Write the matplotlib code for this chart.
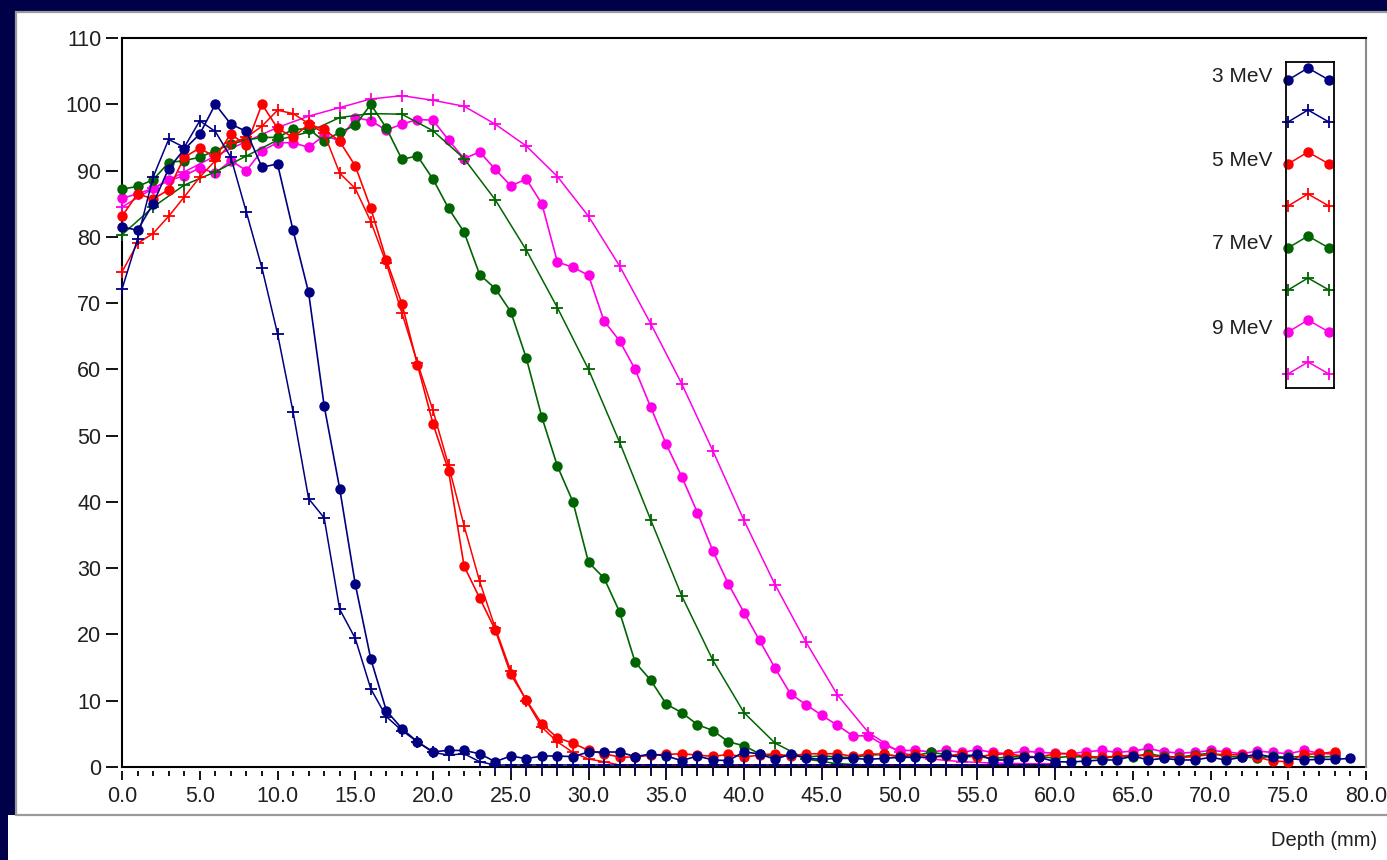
import numpy as np
import matplotlib
matplotlib.use("Agg")
import matplotlib.pyplot as plt
from matplotlib.patches import Rectangle

plt.rcParams['font.family'] = ['Liberation Sans', 'DejaVu Sans']

# figure size in pixels (layout below is given in pixels of the reference)
W, H = 1387, 860

NAVY_BG = "#000048"

# ---- data: relative dose (%) vs depth (mm) ----
labels = ["3 MeV", "5 MeV", "7 MeV", "9 MeV"]
colors = ["#000080", "#ff0000", "#006400", "#ff00e6"]

# measured curves (dots), 1 mm steps starting at 0 mm
dose_3_dot = [81.5, 81, 85, 90.3, 93.2, 95.5, 100, 97, 95.9, 90.5,
              91, 81, 71.6, 54.5, 42, 27.6, 16.3, 8.5, 5.8, 3.8,
              2.3, 2.5, 2.5, 2.0, 0.8, 1.66, 1.26, 1.66, 1.66, 1.56,
              2.26, 2.26, 2.26, 1.56, 1.96, 1.66, 0.96, 1.66, 1.06, 0.96,
              2.3, 1.96, 1.16, 1.96, 1.3, 1.16, 1.3, 1.3, 1.16, 1.3,
              1.46, 1.46, 1.46, 1.8, 1.46, 1.96, 1.06, 1.06, 1.46, 1.46,
              0.8, 0.75, 0.9, 1.06, 1.06, 1.66, 1.06, 1.3, 1.06, 1.06,
              1.46, 1.06, 1.46, 1.96, 1.46, 1.3, 1.06, 1.16, 1.16, 1.3]
dose_5_dot = [83.1, 86.5, 85.7, 87.1, 92, 93.4, 92, 95.5, 93.8, 100,
              96.4, 95, 97, 96.2, 94.4, 90.7, 84.3, 76.5, 69.9, 60.7,
              51.8, 44.7, 30.3, 25.5, 20.7, 14, 10.1, 6.5, 4.4, 3.6,
              2.5, 2.0, 1.5, 1.5, 1.8, 1.9, 2.0, 1.8, 1.6, 1.9,
              1.5, 1.8, 2.0, 1.6, 2.0, 2.0, 2.0, 1.6, 2.0, 1.9,
              1.6, 2.0, 1.5, 1.6, 2.0, 1.5, 1.9, 2.0, 1.6, 1.5,
              2.0, 2.0, 1.6, 1.5, 1.6, 1.8, 1.7, 1.5, 1.4, 1.6,
              1.9, 1.9, 1.8, 1.5, 0.9, 0.8, 1.9, 2.0, 2.3]
dose_7_dot = [87.2, 87.6, 88.6, 91.2, 91.5, 92, 93, 94, 94.6, 95,
              95, 96.2, 96.3, 94.4, 95.8, 96.8, 100, 96.4, 91.7, 92.2,
              88.7, 84.3, 80.7, 74.3, 72.2, 68.7, 61.7, 52.8, 45.4, 40,
              30.9, 28.5, 23.4, 15.8, 13.1, 9.5, 8.2, 6.4, 5.5, 3.8,
              3.2, 2.0, 1.6, 1.8, 1.5, 1.7, 1.5, 1.4, 1.8, 1.9,
              1.6, 1.7, 2.2, 1.9, 1.5, 1.6, 1.3, 1.5, 1.6, 1.5,
              1.4, 1.6, 1.5, 1.3, 1.6, 1.5, 2.0, 1.6, 1.5, 1.8,
              2.1, 1.6, 1.5, 1.4, 1.6, 1.5, 1.6, 1.5, 1.6]
dose_9_dot = [85.8, 86.5, 87.3, 88.5, 89.2, 90.4, 89.6, 91.5, 90, 93,
              94.2, 94.2, 93.5, 95.3, 94.5, 98, 97.5, 96.1, 97, 97.7,
              97.6, 94.6, 91.8, 92.8, 90.2, 87.7, 88.7, 85, 76.2, 75.4,
              74.2, 67.3, 64.3, 60, 54.3, 48.7, 43.8, 38.4, 32.6, 27.6,
              23.3, 19.1, 14.9, 11, 9.4, 7.8, 6.3, 4.7, 4.7, 3.3,
              2.5, 2.5, 2.3, 2.5, 2.2, 2.6, 2.2, 2.0, 2.4, 2.2,
              2.1, 2.0, 2.3, 2.5, 2.2, 2.4, 2.8, 2.3, 2.1, 2.2,
              2.5, 2.3, 2.0, 2.4, 2.2, 2.0, 2.5, 2.1, 1.9]

# calculated curves (plus markers)
depth_3_plus = list(range(0, 61))
dose_3_plus = [72.1, 79.7, 89, 94.7, 93.5, 97.5, 95.9, 92, 83.7, 75.3,
               65.4, 53.6, 40.5, 37.6, 23.8, 19.4, 11.8, 7.6, 5.5, 3.8,
               2.2, 1.8, 2.0, 0.8] + [0.3] * 37
depth_5_plus = list(range(0, 61))
dose_5_plus = [74.7, 79, 80.5, 83.1, 86, 89, 91.5, 94.1, 95, 96.7,
               99.1, 98.6, 97.1, 95.6, 89.6, 87.3, 82.3, 76, 68.5, 61,
               53.8, 45.5, 36.4, 28, 21, 14.5, 10, 6, 3.8, 2.2,
               1.2, 0.8] + [0.3] * 29
depth_7_plus = list(range(0, 61, 2))
dose_7_plus = [80.3, 84.5, 87.8, 89.8, 92.2, 94.6, 95.8, 98, 98.6, 98.5,
               96, 91.8, 85.6, 78, 69.3, 60, 49, 37.3, 25.8, 16.1,
               8.2, 3.6, 1.2, 0.5, 0.3, 0.3, 0.3, 0.3, 0.3, 0.3, 0.3]
depth_9_plus = list(range(0, 61, 2))
dose_9_plus = [84.5, 87.3, 89.8, 92.2, 94.4, 96.5, 98.2, 99.5, 100.8, 101.3,
               100.6, 99.7, 97, 93.7, 89.1, 83.1, 75.6, 66.9, 57.8, 47.7,
               37.2, 27.5, 18.8, 10.9, 5.2, 2.2, 1.2, 0.8, 0.6, 0.5, 0.5]

dots = [dose_3_dot, dose_5_dot, dose_7_dot, dose_9_dot]
pluses = [(depth_3_plus, dose_3_plus), (depth_5_plus, dose_5_plus),
          (depth_7_plus, dose_7_plus), (depth_9_plus, dose_9_plus)]


def fx(x):
    return x / W


def fy(y):
    return 1 - y / H


fig = plt.figure(figsize=(W / 100, H / 100), dpi=100, facecolor=NAVY_BG)

# white panel with grey frame
fig.add_artist(Rectangle((fx(8), 0), 1, fy(815), transform=fig.transFigure,
                         facecolor="white", edgecolor="none", zorder=0))
fig.add_artist(Rectangle((fx(16), fy(815)), 1, fy(12) - fy(815),
                         transform=fig.transFigure, facecolor="white",
                         edgecolor="#9a9a9a", linewidth=1.6, zorder=0))

ax = fig.add_axes([fx(122), fy(767), fx(1366) - fx(122), fy(38) - fy(767)])
ax.set_facecolor("white")

# draw 9 MeV first so that 3 MeV ends on top
for i in [3, 2, 1, 0]:
    d = dots[i]
    ax.plot(np.arange(len(d)), d, color=colors[i], lw=1.2, marker="o",
            markersize=7.5, markeredgewidth=0, zorder=3, clip_on=False)
    px, py = pluses[i]
    ax.plot(px, py, color=colors[i], lw=1.1, marker="+", markersize=8,
            markeredgewidth=1.3, zorder=3, clip_on=False)

ax.set_xlim(0, 80)
ax.set_ylim(0, 110)

ax.set_xticks(np.arange(0, 81, 5))
ax.set_xticklabels([f"{v:.1f}" for v in np.arange(0, 81, 5)])
ax.set_xticks(np.arange(0, 81, 1), minor=True)
ax.set_yticks(np.arange(0, 111, 10))

ax.tick_params(axis="x", which="major", length=6.5, width=1.3, pad=4,
               labelsize=15.5, colors="black", labelcolor="#202020")
ax.tick_params(axis="x", which="minor", length=3.5, width=1.3)
ax.tick_params(axis="y", which="major", length=9, width=1.3, pad=3,
               labelsize=15.5, labelcolor="#202020")

# ticks sit a few pixels off the axis lines
for s in ["bottom", "left"]:
    ax.spines[s].set_position(("outward", 3))
    ax.spines[s].set_visible(False)
ax.axhline(0, color="black", lw=1.5, zorder=2, clip_on=False)
ax.axvline(0, color="black", lw=1.5, zorder=2, clip_on=False)
ax.spines["top"].set_linewidth(1.5)
ax.spines["right"].set_color("#8a8a8a")
ax.spines["right"].set_linewidth(1.5)

# legend box
lx0, lx1, ly0, ly1 = 1286, 1334, 62, 388
lax = fig.add_axes([fx(lx0), fy(ly1), fx(lx1) - fx(lx0), fy(ly0) - fy(ly1)])
lax.set_xlim(lx0, lx1)
lax.set_ylim(ly1, ly0)
lax.set_xticks([])
lax.set_yticks([])
for s in lax.spines.values():
    s.set_linewidth(1.3)

for i, lab in enumerate(labels):
    for k, mk in enumerate(["o", "+"]):
        yc = 76 + 84 * i + 42 * k
        lax.plot([1288, 1308, 1329], [yc + 4, yc - 8, yc + 4],
                 color=colors[i], lw=1.1, marker=mk,
                 markersize=7.5 if mk == "o" else 8,
                 markeredgewidth=0 if mk == "o" else 1.3, clip_on=False)
    fig.text(fx(1272), fy(76 + 84 * i), lab, ha="right", va="center",
             fontsize=15, color="#202020")

fig.text(fx(1377), fy(846), "Depth (mm)", ha="right", va="baseline",
         fontsize=14.5, color="#202020")

fig.savefig("out.png", dpi=100, facecolor=fig.get_facecolor())
